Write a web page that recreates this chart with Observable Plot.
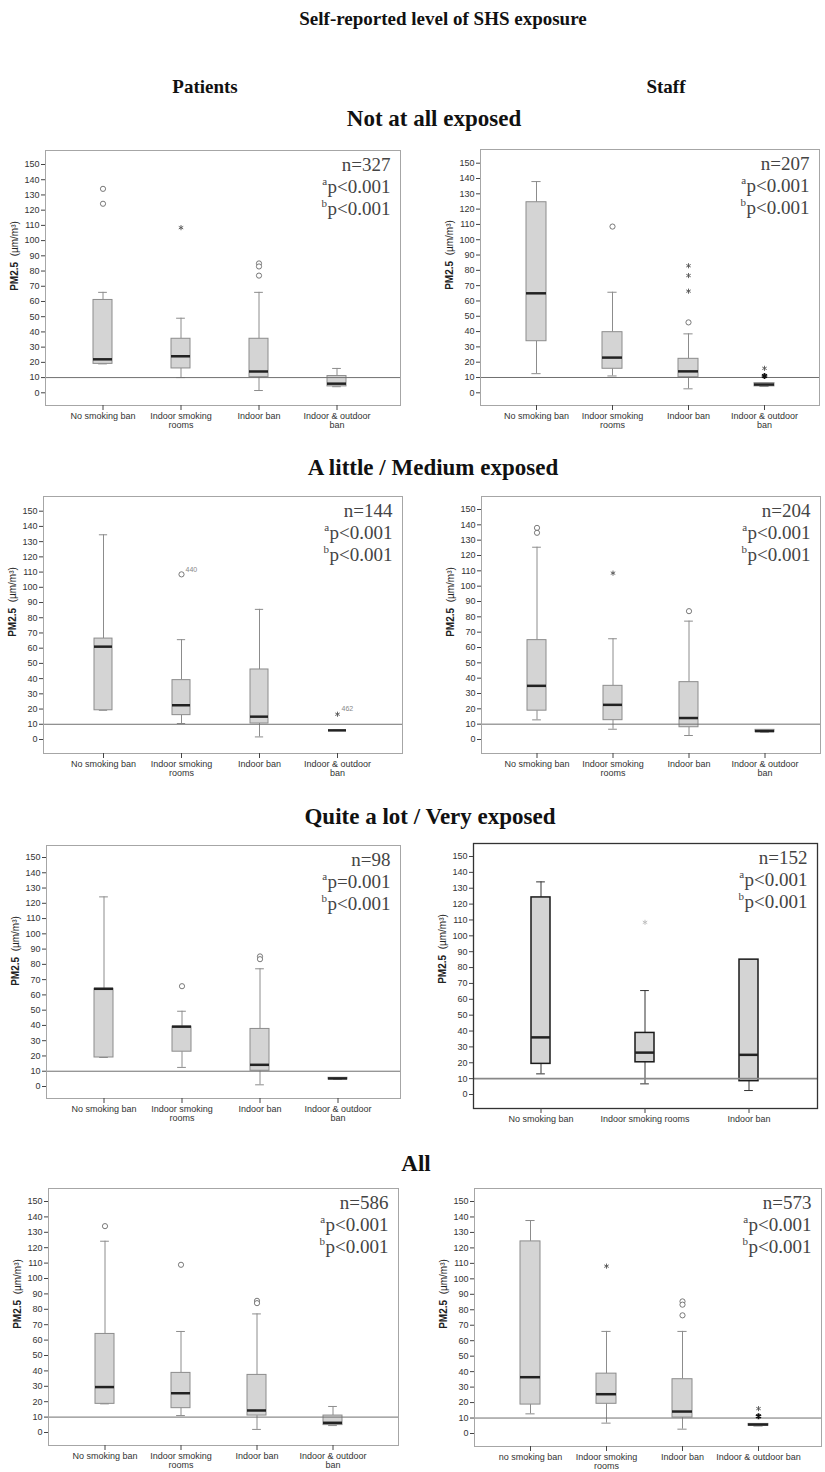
<!DOCTYPE html>
<html>
<head>
<meta charset="utf-8">
<script src="https://cdn.jsdelivr.net/npm/d3@7"></script>
<script src="https://cdn.jsdelivr.net/npm/@observablehq/plot@0.6"></script>
<style>
  body { margin: 0; background: #fff; }
  #page { position: relative; width: 825px; height: 1472px; overflow: hidden; background: #fff; }
  .h { position: absolute; transform: translate(-50%, -50%); font-family: "Liberation Serif", "Times New Roman", serif; font-weight: bold; white-space: nowrap; color: #111; line-height: 1; }
  .panel { position: absolute; }
  .panel svg { overflow: visible; }
</style>
</head>
<body>
<div id="page"></div>
<script>
// ---------------- DATA ----------------
const categories = ["No smoking ban", "Indoor smoking rooms", "Indoor ban", "Indoor & outdoor ban"];
const tickLabels = ["No smoking ban", "Indoor smoking\nrooms", "Indoor ban", "Indoor & outdoor\nban"];
const tickLabelsStaffQuite = ["No smoking ban", "Indoor smoking rooms", "Indoor ban"];
const tickLabelsStaffAll = ["no smoking ban", "Indoor smoking\nrooms", "Indoor ban", "Indoor & outdoor ban"];
const yTickValues = [0, 10, 20, 30, 40, 50, 60, 70, 80, 90, 100, 110, 120, 130, 140, 150];
const referenceLevel = [10];

const titleText = "Self-reported level of SHS exposure";
const groupTitles = ["Patients", "Staff"];
const exposureTitles = ["Not at all exposed", "A little / Medium exposed", "Quite a lot / Very exposed", "All"];

// boxes: [lower whisker, Q1, median, Q3, upper whisker] per category
const patientsNotAtAll = [[19, 19, 22, 61, 66], [10, 16, 24, 35.5, 49], [1.5, 10.3, 14, 35.5, 66], [4, 4.2, 6, 11, 16]];
const staffNotAtAll    = [[12.5, 33.7, 65, 124.5, 138], [11, 15.7, 23, 39.6, 65.7], [2.6, 10.2, 14, 22.2, 38.5], [4.1, 4.2, 5.4, 6.3, 6.3]];
const patientsLittle   = [[19.2, 19.2, 61, 66.3, 134.5], [10.5, 16, 22.5, 39, 65.6], [1.7, 10.5, 15, 46, 85.5], [6, 6, 6, 6, 6]];
const staffLittle      = [[12.8, 18.8, 35, 64.8, 125.4], [6.7, 12.6, 22.6, 35, 65.7], [2.6, 8, 14, 37.4, 77.2], [4.8, 4.8, 5.5, 6.3, 6.3]];
const patientsQuite    = [[19, 19, 64, 64, 124.2], [12.5, 22.8, 39.2, 39.2, 49.3], [1.1, 10.3, 14.2, 37.7, 77.1], [4.6, 4.6, 5.3, 5.7, 5.7]];
const staffQuite       = [[13, 19.3, 36, 124.2, 134], [6.7, 20.3, 26.4, 38.8, 65.5], [2.5, 8.4, 25, 85, 85]];
const patientsAll      = [[18.6, 18.6, 29.5, 64, 124.2], [11, 15.8, 25.5, 38.7, 65.6], [2, 11, 14.3, 37.4, 77], [4.5, 4.8, 6.3, 11, 16.9]];
const staffAll         = [[12.7, 18.7, 36.4, 124.2, 137.7], [6.7, 19.2, 25.4, 38.7, 66], [2.8, 10.3, 14.2, 35.1, 66], [4.8, 5, 5.8, 6.2, 6.2]];

// outliers: [category index, value, kind ("o" circle, "*" star, "*d" dark star, "*l" light star), case label]
const patientsNotAtAllOutliers = [[0, 134, "o"], [0, 124.2, "o"], [1, 108.5, "*"], [2, 85, "o"], [2, 83, "o"], [2, 77, "o"]];
const staffNotAtAllOutliers    = [[1, 108.6, "o"], [2, 46, "o"], [2, 83, "*"], [2, 76.6, "*"], [2, 66.4, "*"], [3, 16, "*"], [3, 11, "*d"]];
const patientsLittleOutliers   = [[1, 108.5, "o", "440"], [3, 16.6, "*", "462"]];
const staffLittleOutliers      = [[0, 138, "o"], [0, 134.8, "o"], [1, 108.5, "*"], [2, 83.7, "o"]];
const patientsQuiteOutliers    = [[1, 65.7, "o"], [2, 85.2, "o"], [2, 83.4, "o"]];
const staffQuiteOutliers       = [[1, 108.5, "*l"]];
const patientsAllOutliers      = [[0, 134, "o"], [1, 108.9, "o"], [2, 85.5, "o"], [2, 84, "o"]];
const staffAllOutliers         = [[1, 108.2, "*"], [2, 85.4, "o"], [2, 83.3, "o"], [2, 76.4, "o"], [3, 16.1, "*"], [3, 11.2, "*d"]];

const sampleSizes = ["n=327", "n=207", "n=144", "n=204", "n=98", "n=152", "n=586", "n=573"];
const pValuesA = ["p<0.001", "p<0.001", "p<0.001", "p<0.001", "p=0.001", "p<0.001", "p<0.001", "p<0.001"];
const pValuesB = ["p<0.001", "p<0.001", "p<0.001", "p<0.001", "p<0.001", "p<0.001", "p<0.001", "p<0.001"];

// ---------------- LAYOUT ----------------
const page = document.getElementById("page");
const serif = "'Liberation Serif', 'Times New Roman', serif";
const sans = "'Liberation Sans', Arial, sans-serif";

function heading(text, cx, cy, size) {
  const d = document.createElement("div");
  d.className = "h";
  d.textContent = text;
  d.style.left = cx + "px";
  d.style.top = cy + "px";
  d.style.fontSize = size + "px";
  page.appendChild(d);
}
heading(titleText, 443, 18, 19);
heading(groupTitles[0], 205, 86, 19);
heading(groupTitles[1], 666, 86, 19);
heading(exposureTitles[0], 434, 118, 23);
heading(exposureTitles[1], 433, 467, 23);
heading(exposureTitles[2], 430, 816, 23);
heading(exposureTitles[3], 416, 1163, 23);

const ctx = document.createElement("canvas").getContext("2d");
function textWidth(s, font) { ctx.font = font; return ctx.measureText(s).width; }

const panels = [
  {boxes: patientsNotAtAll, outliers: patientsNotAtAllOutliers, labels: tickLabels, k: 0,
   pageLeft: 0, fx0: 45, fx1: 400, fy0: 150, fy1: 405, c1: 102, cN: 337, bw: 19, y0px: 392.3, y150px: 164},
  {boxes: staffNotAtAll, outliers: staffNotAtAllOutliers, labels: tickLabels, k: 1,
   pageLeft: 412, fx0: 480, fx1: 819, fy0: 149, fy1: 405, c1: 535, cN: 765, bw: 20, y0px: 392.3, y150px: 162.7},
  {boxes: patientsLittle, outliers: patientsLittleOutliers, labels: tickLabels, k: 2,
   pageLeft: 0, fx0: 43, fx1: 402, fy0: 496, fy1: 753, c1: 102, cN: 337, bw: 18, y0px: 739, y150px: 510.7},
  {boxes: staffLittle, outliers: staffLittleOutliers, labels: tickLabels, k: 3,
   pageLeft: 412, fx0: 481, fx1: 820, fy0: 496, fy1: 753, c1: 536, cN: 765, bw: 19, y0px: 739, y150px: 509},
  {boxes: patientsQuite, outliers: patientsQuiteOutliers, labels: tickLabels, k: 4,
   pageLeft: 0, fx0: 46, fx1: 400, fy0: 845, fy1: 1098, c1: 102, cN: 338, bw: 19, y0px: 1086, y150px: 857},
  {boxes: staffQuite, outliers: staffQuiteOutliers, labels: tickLabelsStaffQuite, k: 5, dark: true,
   pageLeft: 412, fx0: 473, fx1: 817, fy0: 843, fy1: 1108, c1: 540, cN: 749, bw: 19, y0px: 1094, y150px: 856},
  {boxes: patientsAll, outliers: patientsAllOutliers, labels: tickLabels, k: 6,
   pageLeft: 0, fx0: 48, fx1: 398, fy0: 1188, fy1: 1445, c1: 103, cN: 333, bw: 19, y0px: 1432, y150px: 1201},
  {boxes: staffAll, outliers: staffAllOutliers, labels: tickLabelsStaffAll, k: 7,
   pageLeft: 412, fx0: 474, fx1: 821, fy0: 1188, fy1: 1446, c1: 529, cN: 759, bw: 20, y0px: 1433, y150px: 1201}
];

function drawPanel(cfg) {
  const {pageLeft, fx0, fx1, fy0, fy1, c1, cN, bw, y0px, y150px, labels, boxes, outliers, k, dark} = cfg;
  const cats = categories.slice(0, boxes.length);
  const svgTop = fy0 - 12;
  const mL = fx0 - pageLeft, mT = 12, mR = 4, mB = 40;
  const width = fx1 - pageLeft + mR;
  const height = fy1 - svgTop + mB;
  const step = (cN - c1) / (cats.length - 1);
  const pi = 1 - bw / step;
  const rows = boxes.map((b, i) => ({cat: cats[i], lo: b[0], q1: b[1], med: b[2], q3: b[3], hi: b[4]}));
  const pts = outliers.map(o => ({cat: cats[o[0]], v: o[1], kind: o[2], label: o[3] || ""}));
  const boxStroke = dark ? "#1a1a1a" : "#8c8c8c";
  const whisk = dark ? "#333" : "#8c8c8c";
  const frameStroke = dark ? "#333" : "#a6a6a6";
  const n = sampleSizes[k], pa = pValuesA[k], pb = pValuesB[k];
  const wa = textWidth(pa, `19px ${serif}`);
  const wb = textWidth(pb, `19px ${serif}`);
  const txt = {frameAnchor: "top-right", textAnchor: "end", lineAnchor: "bottom", fontFamily: serif, fill: "#444", text: d => d};

  const plot = Plot.plot({
    width, height,
    marginLeft: mL, marginTop: mT, marginRight: mR, marginBottom: mB,
    style: {fontFamily: sans, fontSize: "9px", color: "#333", background: "transparent", overflow: "visible"},
    x: {type: "band", domain: cats, range: [c1 - bw / 2 - pageLeft, cN + bw / 2 - pageLeft], paddingInner: pi, paddingOuter: 0, align: 0.5},
    y: {domain: [0, 150], range: [y0px - svgTop, y150px - svgTop]},
    marks: [
      Plot.ruleX(rows, {x: "cat", y1: "q3", y2: "hi", stroke: whisk}),
      Plot.ruleX(rows, {x: "cat", y1: "lo", y2: "q1", stroke: whisk}),
      Plot.tickY(rows, {x: "cat", y: "hi", stroke: whisk, insetLeft: bw * 0.27, insetRight: bw * 0.27}),
      Plot.tickY(rows, {x: "cat", y: "lo", stroke: whisk, insetLeft: bw * 0.27, insetRight: bw * 0.27}),
      Plot.barY(rows, {x: "cat", y1: "q1", y2: "q3", fill: "#d4d4d4", stroke: boxStroke, strokeWidth: dark ? 1.5 : 1}),
      Plot.tickY(rows, {x: "cat", y: "med", stroke: "#222", strokeWidth: 2.5}),
      Plot.ruleY(referenceLevel, {stroke: dark ? "#888" : "#707070", strokeWidth: dark ? 1.8 : 1}),
      Plot.dot(pts.filter(d => d.kind === "o"), {x: "cat", y: "v", r: 2.6, stroke: "#6a6a6a", fill: "white", strokeWidth: 0.9}),
      Plot.dot(pts.filter(d => d.kind === "*"), {x: "cat", y: "v", symbol: "asterisk", r: 2.4, stroke: "#555", strokeWidth: 0.9}),
      Plot.dot(pts.filter(d => d.kind === "*d"), {x: "cat", y: "v", symbol: "asterisk", r: 2.8, stroke: "#111", strokeWidth: 1.8}),
      Plot.dot(pts.filter(d => d.kind === "*l"), {x: "cat", y: "v", symbol: "asterisk", r: 2.4, stroke: "#bbb", strokeWidth: 0.9}),
      Plot.text(pts.filter(d => d.label), {x: "cat", y: "v", text: "label", dx: 4, dy: -5, textAnchor: "start", fontSize: 7, fill: "#888"}),
      Plot.frame({stroke: frameStroke, strokeWidth: dark ? 1.3 : 1}),
      Plot.axisY({ticks: yTickValues, tickSize: 4, tickPadding: 2, label: null, fontSize: 9, stroke: "#444"}),
      Plot.axisX({tickSize: 5, tickPadding: 2, label: null, fontSize: 9, stroke: "#444",
                  tickFormat: d => labels[cats.indexOf(d)]}),
      Plot.text([n], {...txt, dx: -10, dy: 20, fontSize: 19}),
      Plot.text([pa], {...txt, dx: -10, dy: 42, fontSize: 19}),
      Plot.text(["a"], {...txt, dx: -10 - wa - 0.5, dy: 34, fontSize: 11}),
      Plot.text([pb], {...txt, dx: -10, dy: 64, fontSize: 19}),
      Plot.text(["b"], {...txt, dx: -10 - wb - 0.5, dy: 56, fontSize: 11})
    ]
  });

  // y-axis label with bold "PM2.5"
  const svg = d3.select(plot);
  const t = svg.append("text")
    .attr("transform", `translate(${mL - 27},${fy0 + 106 - svgTop}) rotate(-90)`)
    .attr("text-anchor", "middle")
    .attr("font-family", sans)
    .attr("font-size", 10)
    .attr("fill", "#222");
  t.append("tspan").attr("font-weight", "bold").text("PM2.5");
  t.append("tspan").text("\u00a0\u00a0(\u00b5m/m\u00b3)");

  const holder = document.createElement("div");
  holder.className = "panel";
  holder.style.left = pageLeft + "px";
  holder.style.top = svgTop + "px";
  holder.appendChild(plot);
  page.appendChild(holder);
}

panels.forEach(drawPanel);
</script>
</body>
</html>
